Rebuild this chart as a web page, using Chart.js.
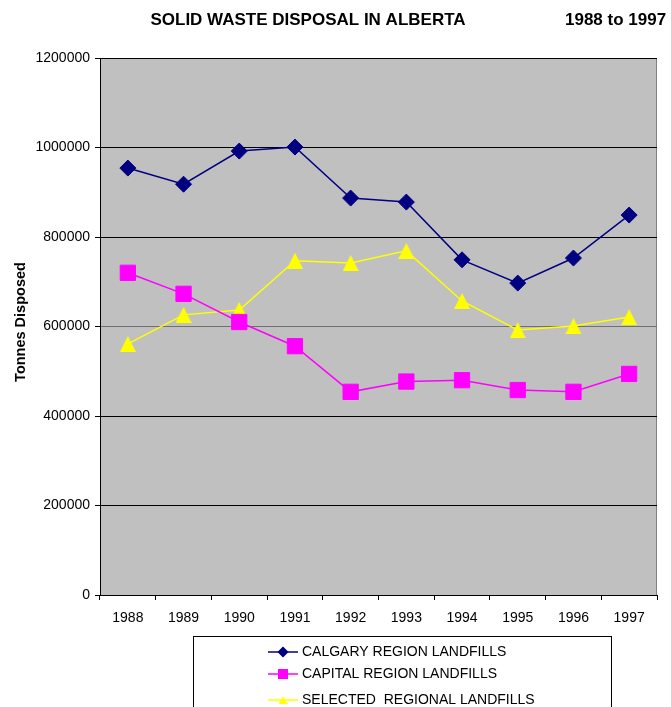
<!DOCTYPE html>
<html>
<head>
<meta charset="utf-8">
<script src="https://cdn.jsdelivr.net/npm/chart.js@4/dist/chart.umd.min.js"></script>
<style>
html,body{margin:0;padding:0;background:#fff;}
#c{display:block;}
</style>
</head>
<body>
<canvas id="c" width="671" height="707" style="width:671px;height:707px"></canvas>
<script>
const years = ['1988','1989','1990','1991','1992','1993','1994','1995','1996','1997'];
const calgary = [954000, 918000, 992000, 1001000, 887000, 878000, 749000, 697000, 753000, 849000];
const capital = [720000, 673000, 610000, 556000, 454000, 477000, 480000, 458000, 454000, 494000];
const selected = [561000, 626000, 637000, 747000, 742000, 769000, 657000, 592000, 601000, 621000];
const yTicks = [0, 200000, 400000, 600000, 800000, 1000000, 1200000];
const seriesNames = ['CALGARY REGION LANDFILLS', 'CAPITAL REGION LANDFILLS', 'SELECTED  REGIONAL LANDFILLS'];
const titleText = 'SOLID WASTE DISPOSAL IN ALBERTA';
const subTitleText = '1988 to 1997';
const yTitle = 'Tonnes Disposed';

const FONT = '"Liberation Sans", Arial, sans-serif';

function triCanvas(w, h, color) {
  const cv = document.createElement('canvas');
  cv.width = w; cv.height = h;
  const c = cv.getContext('2d');
  c.fillStyle = color;
  c.beginPath();
  c.moveTo(w / 2, 0);
  c.lineTo(w, h);
  c.lineTo(0, h);
  c.closePath();
  c.fill();
  return cv;
}
const triBig = triCanvas(16, 16, '#FFFF00');
const triSmall = triCanvas(9, 8, '#FFFF00');

const decor = {
  id: 'decor',
  beforeDraw(chart) {
    const {ctx, chartArea: a} = chart;
    ctx.save();
    ctx.fillStyle = '#C0C0C0';
    ctx.fillRect(a.left, a.top, a.right - a.left, a.bottom - a.top);
    ctx.strokeStyle = '#808080';
    ctx.lineWidth = 1;
    ctx.strokeRect(a.left + 0.5, a.top + 0.5, a.right - a.left - 1, a.bottom - a.top);
    ctx.restore();
  },
  afterDraw(chart) {
    const ctx = chart.ctx;
    ctx.save();
    ctx.fillStyle = '#000';
    ctx.font = 'bold 17px ' + FONT;
    ctx.textBaseline = 'alphabetic';
    ctx.textAlign = 'center';
    ctx.fillText(titleText, 308, 25);
    ctx.textAlign = 'left';
    ctx.fillText(subTitleText, 565, 25);

    // Y axis title
    ctx.save();
    ctx.translate(25, 322);
    ctx.rotate(-Math.PI / 2);
    ctx.font = 'bold 14.5px ' + FONT;
    ctx.textAlign = 'center';
    ctx.textBaseline = 'alphabetic';
    ctx.fillText(yTitle, 0, 0);
    ctx.restore();

    // Legend
    ctx.strokeStyle = '#000';
    ctx.lineWidth = 1;
    ctx.strokeRect(193.5, 636.5, 611 - 193, 100);
    const rows = [652, 674, 700];
    chart.data.datasets.forEach((ds, i) => {
      const y = rows[i];
      ctx.strokeStyle = ds.borderColor;
      ctx.lineWidth = 1.5;
      ctx.beginPath();
      ctx.moveTo(268, y);
      ctx.lineTo(298, y);
      ctx.stroke();
      const ps = ds.legendStyle || ds.pointStyle;
      if (ps instanceof HTMLCanvasElement) {
        ctx.drawImage(ps, 283 - ps.width / 2, y - ps.height / 2);
      } else {
        Chart.helpers.drawPoint(ctx, {
          pointStyle: ps, radius: ds.legendRadius, rotation: 0, borderWidth: 1
        }, 283, y);
        ctx.fillStyle = ds.backgroundColor;
        ctx.fill();
      }
      ctx.fillStyle = '#000';
      ctx.font = '14px ' + FONT;
      ctx.textAlign = 'left';
      ctx.textBaseline = 'middle';
      ctx.fillText(ds.label, 302, y);
    });
    ctx.restore();
  }
};

new Chart(document.getElementById('c'), {
  type: 'line',
  data: {
    labels: years,
    datasets: [
      {
        label: seriesNames[0], data: calgary,
        borderColor: '#000080', backgroundColor: '#000080',
        borderWidth: 1.5, pointStyle: 'rectRot', pointRadius: 8, legendRadius: 4.5,
        pointBorderWidth: 1, tension: 0
      },
      {
        label: seriesNames[1], data: capital,
        borderColor: '#FF00FF', backgroundColor: '#FF00FF',
        borderWidth: 1.5, pointStyle: 'rect', pointRadius: 10.8, legendRadius: 6,
        pointBorderWidth: 1, tension: 0
      },
      {
        label: seriesNames[2], data: selected,
        borderColor: '#FFFF00', backgroundColor: '#FFFF00',
        borderWidth: 1.5, pointStyle: triBig, legendStyle: triSmall, pointRadius: 8,
        pointBorderWidth: 0, tension: 0
      }
    ]
  },
  options: {
    responsive: false,
    animation: false,
    events: [],
    layout: { padding: { top: 58, right: 14, left: 0, bottom: 0 } },
    plugins: { legend: { display: false }, title: { display: false }, tooltip: { enabled: false } },
    scales: {
      x: {
        type: 'category',
        offset: true,
        afterFit(s) { s.height = 112; },
        grid: { offset: true, drawOnChartArea: false, tickLength: 5, color: '#000', tickColor: '#000' },
        border: { color: '#000', width: 1 },
        ticks: { color: '#000', font: { family: FONT, size: 14 }, padding: 10, maxRotation: 0, autoSkip: false }
      },
      y: {
        min: 0, max: 1200000,
        afterFit(s) { s.width = 100; },
        afterBuildTicks(s) { s.ticks = yTicks.map(v => ({ value: v })); },
        grid: {
          tickLength: 5,
          color: c => (c.tick && c.tick.value === 600000) ? '#707070' : '#000',
          tickColor: '#000',
          lineWidth: 1
        },
        border: { color: '#000', width: 1 },
        ticks: { color: '#000', font: { family: FONT, size: 14 }, padding: 5, callback: v => String(v) }
      }
    }
  },
  plugins: [decor]
});
</script>
</body>
</html>
